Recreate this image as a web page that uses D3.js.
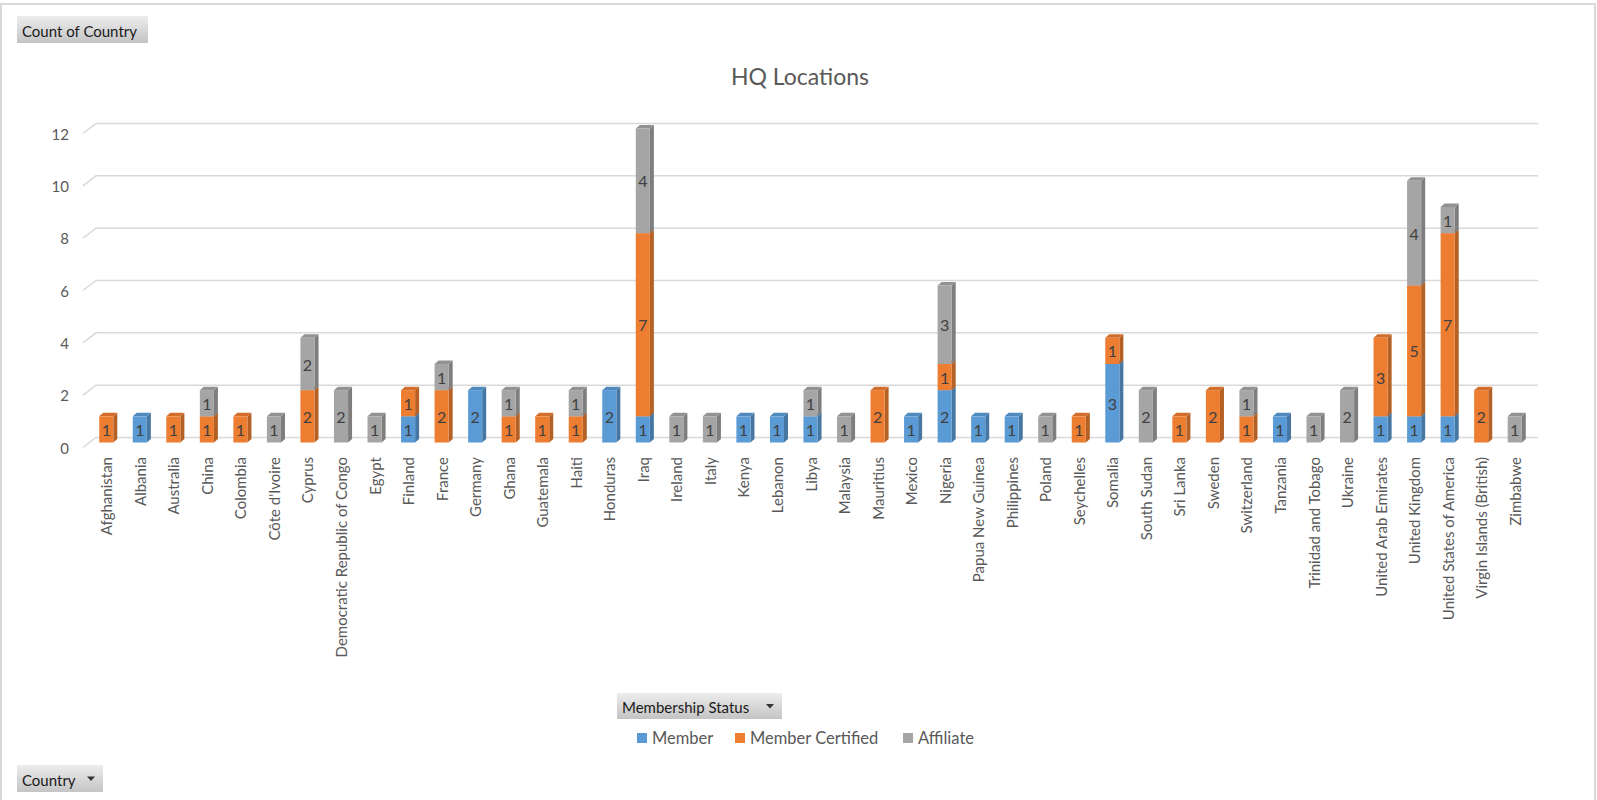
<!DOCTYPE html>
<html>
<head>
<meta charset="utf-8">
<script src="https://cdn.jsdelivr.net/npm/d3@7"></script>
<style>
  html, body { margin: 0; padding: 0; background: #fff; }
  svg { display: block; font-family: Lato, "Open Sans", sans-serif; }
</style>
</head>
<body>
<svg id="chart" width="1597" height="800"></svg>
<script>
/*global d3*/

var countries = ["Afghanistan", "Albania", "Australia", "China", "Colombia", "Côte d'Ivoire",
  "Cyprus", "Democratic Republic of Congo", "Egypt", "Finland", "France", "Germany", "Ghana",
  "Guatemala", "Haiti", "Honduras", "Iraq", "Ireland", "Italy", "Kenya", "Lebanon", "Libya",
  "Malaysia", "Mauritius", "Mexico", "Nigeria", "Papua New Guinea", "Philippines", "Poland",
  "Seychelles", "Somalia", "South Sudan", "Sri Lanka", "Sweden", "Switzerland", "Tanzania",
  "Trinidad and Tobago", "Ukraine", "United Arab Emirates", "United Kingdom",
  "United States of America", "Virgin Islands (British)", "Zimbabwe"];

var member          = [0,1,0,0,0,0,0,0,0,1,0,2,0,0,0,2,1,0,0,1,1,1,0,0,1,2,1,1,0,0,3,0,0,0,0,1,0,0,1,1,1,0,0];
var memberCertified = [1,0,1,1,1,0,2,0,0,1,2,0,1,1,1,0,7,0,0,0,0,0,0,2,0,1,0,0,0,1,1,0,1,2,1,0,0,0,3,5,7,2,0];
var affiliate       = [0,0,0,1,0,1,2,2,1,0,1,0,1,0,1,0,4,1,1,0,0,1,1,0,0,3,0,0,1,0,0,2,0,0,1,0,1,2,0,4,1,0,1];

var seriesNames = ["Member", "Member Certified", "Affiliate"];
var seriesColors = ["#5B9BD5", "#ED7D31", "#A5A5A5"];
var yTicks = [0, 2, 4, 6, 8, 10, 12];

var svg = d3.select("#chart");

// outer chart border
svg.append("rect")
    .attr("x", 1).attr("y", 4).attr("width", 1594).attr("height", 820)
    .attr("fill", "none").attr("stroke", "#D9D9D9").attr("stroke-width", 2);

// 3d geometry: back wall, bars sit half way into the floor depth
var depth = {dx: 13, dy: -10};
var back = {x0: 96, x1: 1538};
var y = d3.scaleLinear().domain([0, 12]).range([437.5, 123.5]);   // back wall
var x = d3.scaleBand().domain(countries).range([back.x0, back.x1]);
var barOff = {dx: -depth.dx / 2, dy: -depth.dy / 2};
var barW = x.bandwidth() * 0.42;
var face = {dx: 4, dy: -3.5};

// gridlines (back wall + short floor/side diagonal)
var grid = svg.append("g").attr("class", "grid");
yTicks.forEach(function (t) {
  grid.append("path")
      .attr("d", "M" + (back.x0 - depth.dx) + "," + (y(t) - depth.dy) +
                 "L" + back.x0 + "," + y(t) + "H" + back.x1)
      .attr("fill", "none").attr("stroke", "#D9D9D9").attr("stroke-width", 1.5);
});

// y axis labels on the front plane
svg.append("g").selectAll("text")
  .data(yTicks)
  .join("text")
    .attr("x", 69)
    .attr("y", function (d) { return y(d) - depth.dy; })
    .attr("text-anchor", "end")
    .attr("dominant-baseline", "central")
    .attr("font-size", 15)
    .attr("fill", "#595959")
    .text(function (d) { return d; });

// stacked series
var rows = countries.map(function (c, i) {
  return {country: c, Member: member[i], "Member Certified": memberCertified[i], Affiliate: affiliate[i]};
});
var stacked = d3.stack().keys(seriesNames)(rows);

var segs = [];
countries.forEach(function (c, i) {
  stacked.forEach(function (s, k) {
    var v = s[i];
    if (v[1] - v[0] > 0) {
      segs.push({country: c, k: k, y0: v[0], y1: v[1], value: v[1] - v[0]});
    }
  });
});

var bars = svg.append("g").attr("class", "bars");
segs.forEach(function (d) {
  var cx = x(d.country) + x.bandwidth() / 2 + barOff.dx;
  var left = cx - barW / 2, right = cx + barW / 2;
  var top = y(d.y1) + barOff.dy, bottom = y(d.y0) + barOff.dy;
  var col = d3.color(seriesColors[d.k]);
  var g = bars.append("g");
  // side face
  g.append("path")
      .attr("d", "M" + right + "," + bottom + "L" + (right + face.dx) + "," + (bottom + face.dy) +
                 "L" + (right + face.dx) + "," + (top + face.dy) + "L" + right + "," + top + "Z")
      .attr("fill", col.darker(0.75));
  // top face
  g.append("path")
      .attr("d", "M" + left + "," + top + "L" + (left + face.dx) + "," + (top + face.dy) +
                 "L" + (right + face.dx) + "," + (top + face.dy) + "L" + right + "," + top + "Z")
      .attr("fill", col.darker(0.35));
  // front face
  g.append("rect")
      .attr("x", left).attr("y", top)
      .attr("width", barW).attr("height", bottom - top)
      .attr("fill", col);
  // data label
  g.append("text")
      .attr("x", cx)
      .attr("y", (top + bottom) / 2)
      .attr("text-anchor", "middle")
      .attr("dominant-baseline", "central")
      .attr("font-size", 16)
      .attr("fill", "#404040")
      .text(d.value);
});

// category labels
svg.append("g").selectAll("text")
  .data(countries)
  .join("text")
    .attr("transform", function (d) {
      return "translate(" + (x(d) + x.bandwidth() / 2 + barOff.dx) + ",457) rotate(-90)";
    })
    .attr("text-anchor", "end")
    .attr("dominant-baseline", "central")
    .attr("font-size", 15)
    .attr("fill", "#595959")
    .text(function (d) { return d; });

// title
svg.append("text")
    .attr("x", 800).attr("y", 76)
    .attr("text-anchor", "middle")
    .attr("dominant-baseline", "central")
    .attr("font-size", 23)
    .attr("fill", "#595959")
    .text("HQ Locations");

// pivot field buttons
var defs = svg.append("defs");
var grad = defs.append("linearGradient").attr("id", "btn").attr("x1", 0).attr("y1", 0).attr("x2", 0).attr("y2", 1);
grad.append("stop").attr("offset", "0%").attr("stop-color", "#EDEDED");
grad.append("stop").attr("offset", "100%").attr("stop-color", "#C4C4C4");

function button(bx, by, bw, bh, label, arrow) {
  var g = svg.append("g");
  g.append("rect").attr("x", bx).attr("y", by).attr("width", bw).attr("height", bh)
      .attr("fill", "url(#btn)");
  g.append("text").attr("x", bx + 5).attr("y", by + bh / 2 + 1)
      .attr("dominant-baseline", "central")
      .attr("font-size", 15).attr("fill", "#1a1a1a")
      .text(label);
  if (arrow) {
    var ax = bx + bw - 12, ay = by + bh / 2;
    g.append("path").attr("d", "M" + (ax - 4) + "," + (ay - 2) + "L" + (ax + 4) + "," + (ay - 2) + "L" + ax + "," + (ay + 2.5) + "Z")
        .attr("fill", "#333");
  }
}
button(17, 16, 131, 27, "Count of Country", false);
button(617, 693, 165, 26, "Membership Status", true);
button(17, 765, 86, 27, "Country", true);

// legend
var legendX = [637, 735, 903];
var legend = svg.append("g").selectAll("g")
  .data(seriesNames)
  .join("g")
    .attr("transform", function (d, i) { return "translate(" + legendX[i] + ",733)"; });
legend.append("rect").attr("width", 10).attr("height", 10)
    .attr("fill", function (d, i) { return seriesColors[i]; });
legend.append("text").attr("x", 15).attr("y", 5)
    .attr("dominant-baseline", "central")
    .attr("font-size", 16.5).attr("fill", "#595959")
    .text(function (d) { return d; });
</script>
</body>
</html>
